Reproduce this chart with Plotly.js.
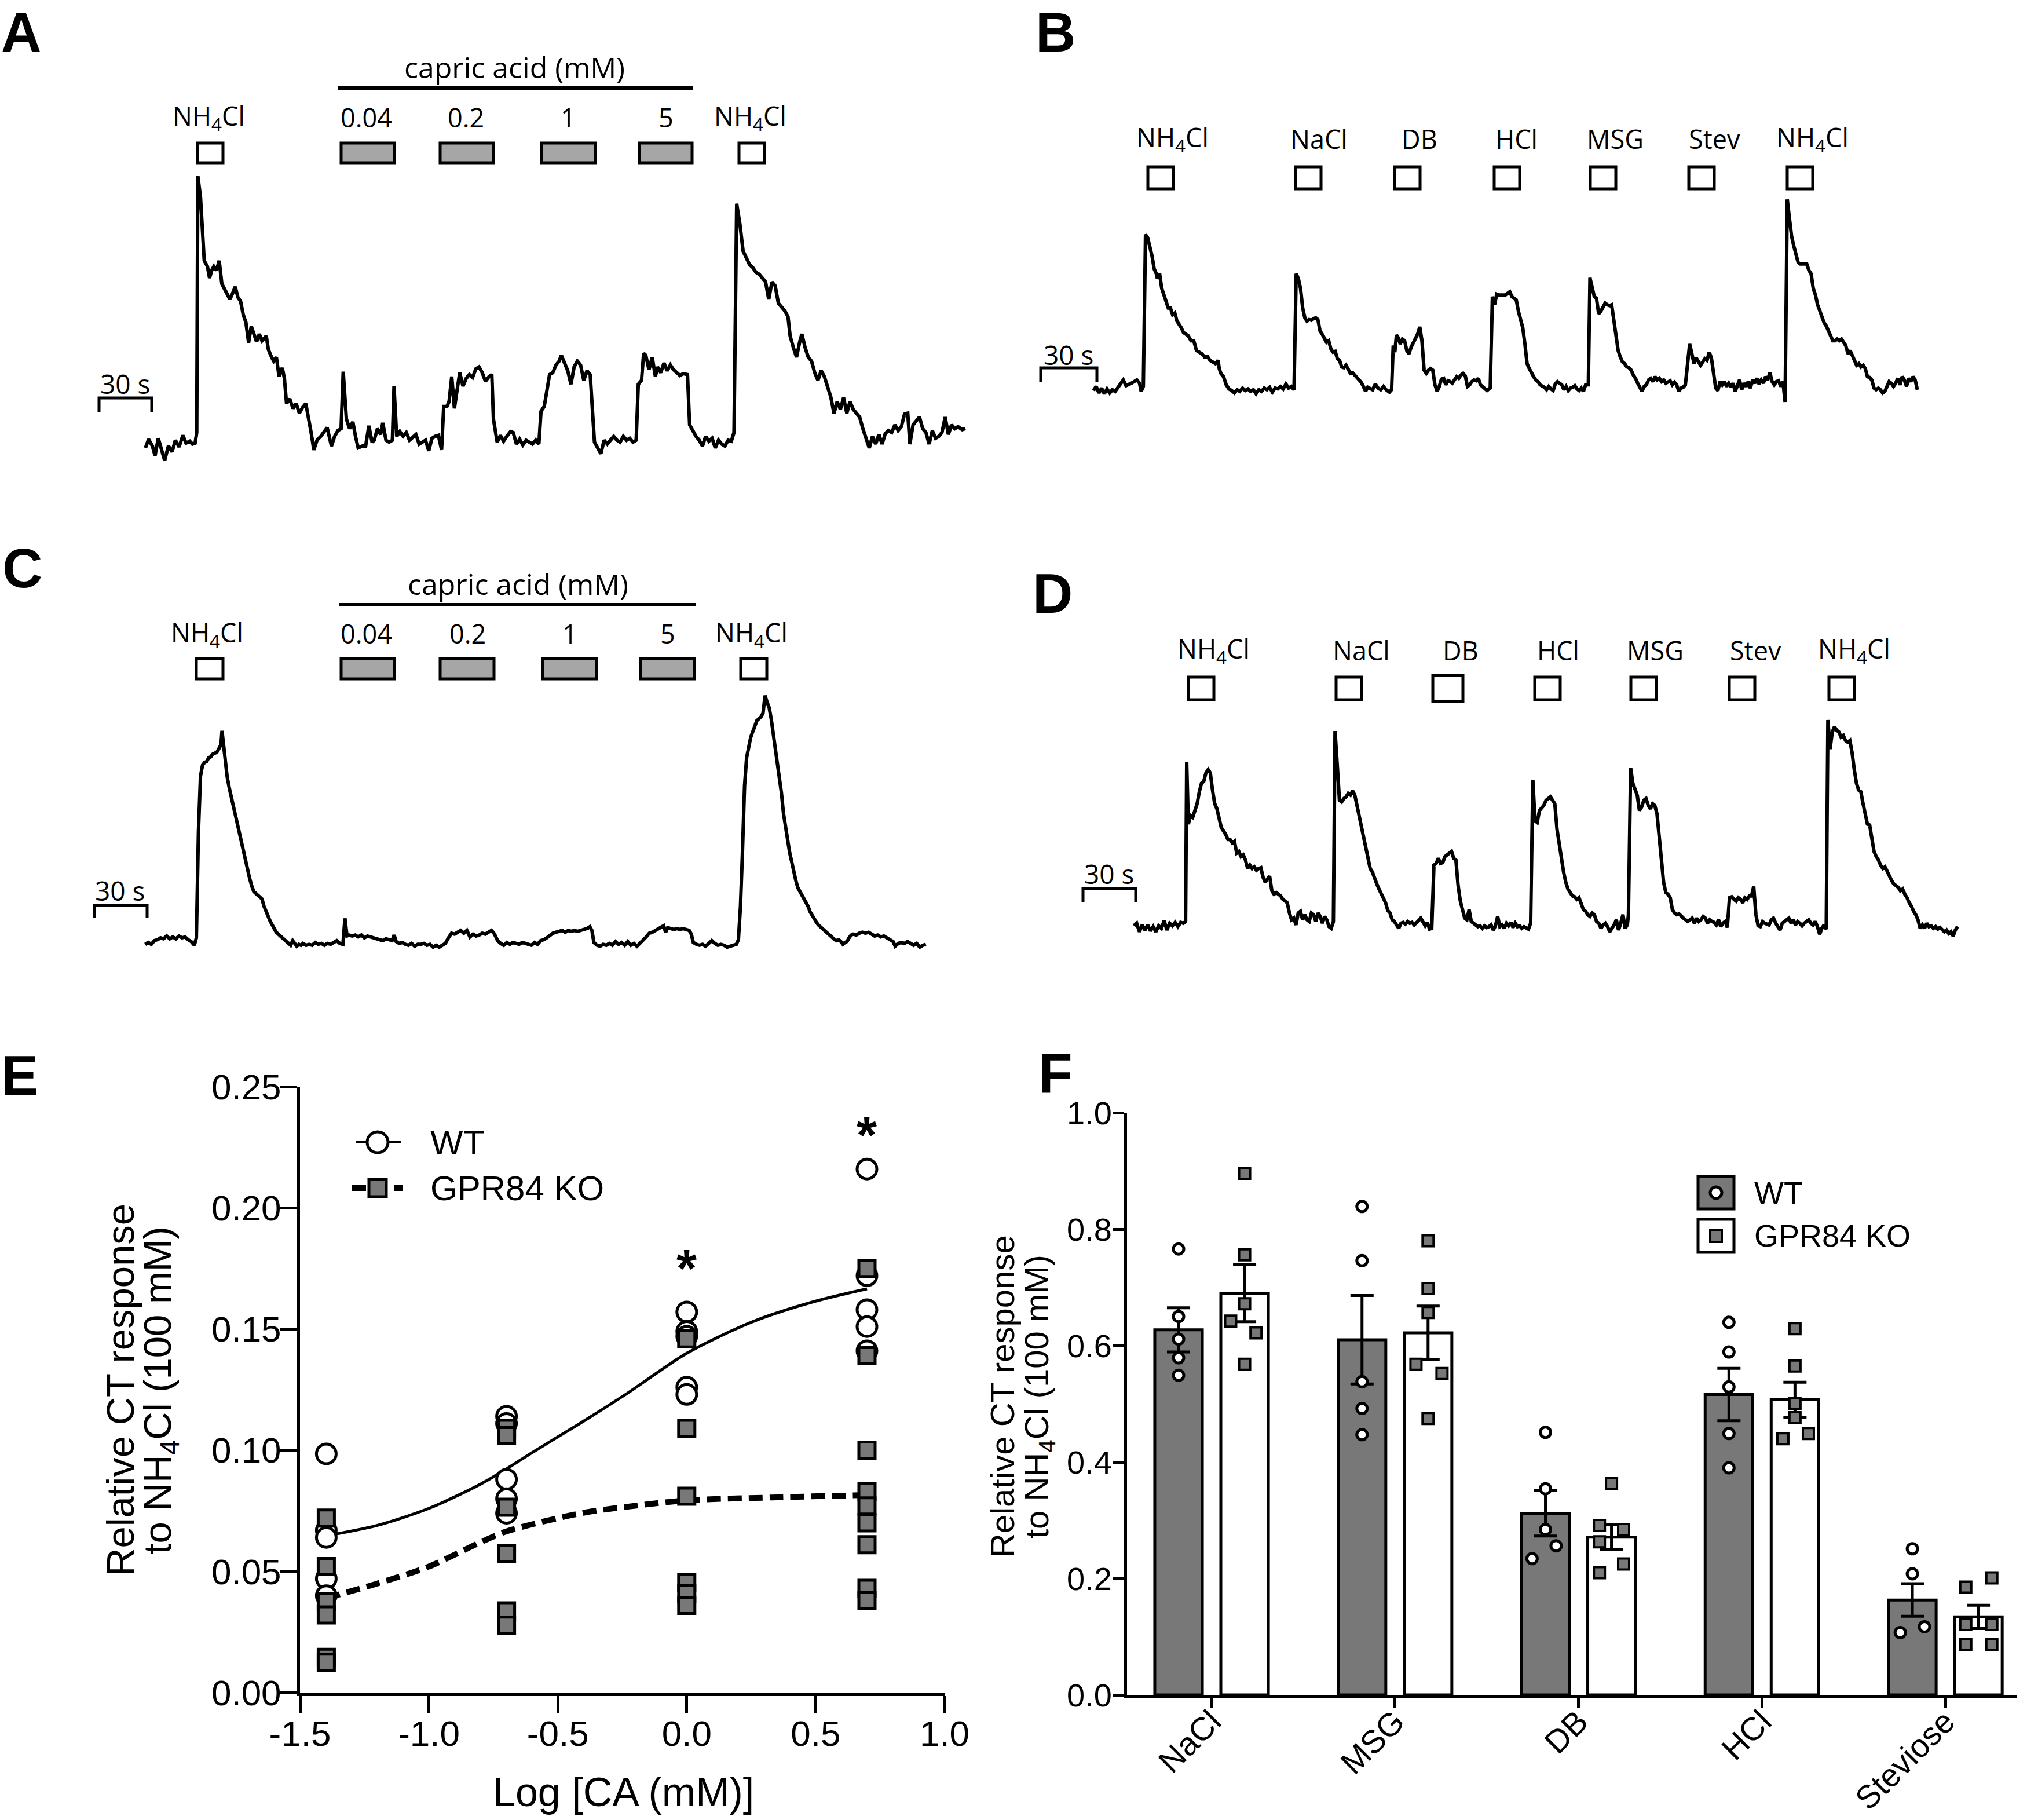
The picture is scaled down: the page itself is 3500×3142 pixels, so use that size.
<!DOCTYPE html>
<html><head><meta charset="utf-8">
<script src="https://cdn.plot.ly/plotly-3.0.1.min.js"></script>
<style>html,body{margin:0;padding:0;background:#fff}</style>
</head><body>
<div id="fig" style="width:3500px;height:3142px"></div>
<script>
// ---------------- DATA ----------------
// Nerve recordings: [time, integrated response] in digitisation units (arbitrary units)
const traceA = [[12,80],[18,125],[25,90],[30,40],[36,130],[42,70],[48,15],[55,90],[62,60],[68,120],[75,85],[82,145],[88,105],[95,115],[100,100],[105,105],[108,160],[110,1490],[115,1380],[118,1240],[122,1050],[128,1020],[132,960],[136,1000],[140,1020],[145,1000],[150,1050],[155,930],[160,900],[165,870],[170,850],[175,880],[180,915],[185,860],[190,840],[195,770],[200,730],[205,625],[210,710],[215,670],[220,630],[225,670],[230,635],[238,660],[242,590],[248,550],[252,530],[257,550],[262,450],[268,495],[272,440],[276,310],[282,335],[288,285],[294,310],[300,260],[306,290],[312,310],[318,230],[322,160],[327,70],[333,120],[340,140],[346,160],[352,185],[360,90],[366,140],[372,170],[378,180],[382,475],[388,230],[394,180],[400,215],[405,140],[410,80],[418,90],[424,90],[430,195],[436,110],[440,120],[446,180],[452,150],[456,210],[462,120],[468,110],[474,120],[477,400],[482,140],[488,165],[494,140],[500,160],[506,120],[512,135],[518,150],[524,100],[530,110],[536,120],[542,65],[548,130],[554,140],[560,145],[566,70],[570,295],[576,295],[580,320],[585,450],[590,285],[595,380],[600,470],[606,400],[612,440],[618,460],[624,445],[630,490],[636,500],[642,470],[648,425],[655,450],[660,460],[663,230],[670,110],[676,145],[682,115],[688,140],[695,165],[700,160],[706,100],[712,125],[718,95],[724,120],[730,110],[736,100],[742,120],[748,100],[752,270],[758,295],[762,360],[768,460],[774,470],[780,510],[786,530],[790,560],[796,520],[802,480],[808,410],[814,500],[820,530],[826,510],[832,430],[838,480],[844,460],[848,260],[852,110],[858,80],[864,50],[870,120],[876,100],[882,120],[888,140],[894,120],[900,110],[906,140],[912,120],[918,130],[924,110],[930,120],[934,410],[940,430],[944,570],[948,560],[954,485],[960,550],[966,450],[970,500],[976,470],[982,520],[988,480],[994,510],[1000,485],[1006,470],[1012,455],[1018,465],[1026,460],[1030,200],[1036,165],[1042,140],[1048,120],[1054,90],[1060,140],[1066,115],[1072,130],[1078,80],[1084,120],[1090,100],[1096,90],[1102,120],[1108,115],[1113,160],[1118,1345],[1124,1240],[1130,1100],[1136,1060],[1142,1030],[1148,1015],[1154,990],[1160,980],[1166,960],[1172,940],[1178,850],[1184,940],[1190,920],[1196,830],[1202,810],[1208,790],[1214,760],[1218,660],[1224,600],[1230,550],[1236,630],[1240,670],[1246,600],[1252,550],[1258,530],[1264,470],[1270,430],[1276,480],[1282,450],[1288,400],[1294,345],[1300,260],[1306,320],[1312,280],[1318,340],[1324,260],[1330,320],[1336,280],[1342,260],[1348,240],[1354,180],[1360,130],[1366,80],[1372,140],[1378,100],[1384,150],[1390,100],[1396,155],[1402,170],[1408,160],[1414,200],[1420,170],[1426,190],[1432,255],[1438,260],[1442,100],[1448,200],[1454,220],[1460,240],[1466,180],[1472,160],[1478,100],[1484,170],[1490,130],[1496,140],[1502,160],[1508,240],[1514,150],[1520,200],[1526,180],[1532,190],[1540,175],[1546,180]];

const traceB = [[30,375],[35,400],[40,360],[45,390],[50,355],[55,385],[60,360],[65,380],[70,370],[75,395],[80,420],[85,440],[90,405],[95,410],[100,420],[105,430],[110,440],[115,420],[118,370],[122,400],[126,1330],[130,1310],[134,1260],[138,1200],[142,1120],[146,1090],[148,1060],[152,1090],[156,1000],[160,950],[164,920],[168,880],[172,880],[176,840],[180,850],[184,800],[188,780],[192,760],[196,730],[200,720],[205,710],[210,680],[215,680],[220,620],[225,610],[230,600],[235,580],[240,585],[245,560],[250,550],[255,540],[260,560],[262,510],[265,480],[270,460],[275,410],[280,385],[285,375],[290,360],[295,380],[300,370],[305,390],[310,375],[315,385],[320,370],[325,380],[330,355],[335,380],[340,370],[345,390],[350,380],[355,395],[360,365],[365,390],[370,385],[375,400],[380,385],[385,415],[390,390],[395,400],[400,380],[404,1090],[408,1060],[412,1000],[416,880],[420,820],[424,800],[428,810],[432,805],[436,815],[440,820],[444,810],[448,740],[452,720],[456,690],[460,670],[464,680],[468,630],[472,610],[476,615],[480,570],[484,560],[488,520],[492,515],[496,530],[500,500],[504,480],[508,485],[512,470],[516,455],[520,440],[524,425],[528,400],[532,370],[536,395],[540,390],[545,380],[550,415],[555,390],[560,380],[565,400],[570,380],[576,365],[580,380],[583,650],[586,610],[589,715],[592,700],[596,660],[600,690],[604,680],[608,620],[612,600],[616,640],[620,670],[624,700],[628,720],[632,765],[636,680],[640,500],[644,480],[648,500],[652,510],[656,500],[660,410],[664,370],[668,400],[672,445],[676,450],[680,410],[684,435],[688,430],[692,420],[696,440],[700,460],[704,450],[708,470],[712,480],[716,465],[720,400],[724,410],[728,430],[732,440],[736,435],[740,450],[744,410],[748,400],[752,390],[756,375],[762,390],[766,950],[770,900],[774,965],[778,960],[782,960],[786,965],[790,960],[794,970],[798,980],[802,950],[806,940],[810,930],[814,860],[818,810],[822,760],[826,660],[830,540],[834,510],[838,480],[842,460],[846,440],[850,430],[854,410],[858,405],[862,395],[866,380],[870,400],[874,385],[878,375],[882,415],[886,430],[890,420],[894,410],[898,380],[902,400],[906,375],[910,390],[914,395],[918,405],[922,385],[926,375],[930,390],[934,370],[938,410],[943,410],[946,1065],[950,1010],[954,950],[958,940],[962,845],[966,860],[970,885],[974,910],[978,900],[982,895],[986,900],[990,810],[994,700],[998,620],[1002,580],[1006,550],[1010,540],[1014,520],[1018,515],[1022,500],[1026,470],[1030,450],[1034,420],[1038,390],[1042,370],[1046,400],[1050,410],[1054,440],[1058,450],[1062,430],[1066,460],[1070,440],[1074,450],[1078,430],[1082,440],[1086,420],[1090,430],[1094,435],[1098,410],[1102,425],[1106,410],[1110,370],[1114,390],[1118,395],[1122,410],[1126,520],[1130,660],[1134,600],[1138,540],[1142,575],[1146,550],[1150,530],[1154,550],[1158,570],[1162,560],[1166,610],[1170,575],[1174,460],[1178,390],[1182,375],[1186,430],[1190,410],[1194,430],[1198,400],[1202,420],[1206,395],[1210,420],[1214,370],[1218,410],[1222,440],[1226,380],[1230,420],[1234,400],[1238,430],[1242,390],[1246,440],[1250,420],[1254,450],[1258,415],[1262,440],[1266,420],[1270,460],[1274,440],[1278,485],[1282,430],[1286,410],[1290,430],[1294,435],[1298,400],[1302,430],[1306,305],[1310,1545],[1314,1430],[1318,1320],[1322,1260],[1326,1210],[1330,1160],[1334,1150],[1338,1150],[1342,1145],[1346,1150],[1350,1110],[1354,1090],[1358,1000],[1362,960],[1366,900],[1370,860],[1374,820],[1378,790],[1382,770],[1386,740],[1390,700],[1394,680],[1398,680],[1402,690],[1406,680],[1410,690],[1414,670],[1418,650],[1422,600],[1426,620],[1430,590],[1434,560],[1438,530],[1442,540],[1446,520],[1450,530],[1454,510],[1458,460],[1462,455],[1466,440],[1470,390],[1474,380],[1478,390],[1482,380],[1486,360],[1490,370],[1494,400],[1498,430],[1502,420],[1506,400],[1510,420],[1514,450],[1518,410],[1522,460],[1526,440],[1530,400],[1534,450],[1538,430],[1542,460],[1546,440],[1550,380]];

const traceC = [[12,155],[18,165],[24,155],[30,175],[36,180],[42,190],[48,185],[54,200],[60,185],[66,195],[72,185],[78,200],[84,190],[90,195],[96,180],[102,170],[108,150],[112,190],[116,760],[120,1060],[124,1120],[128,1135],[132,1140],[136,1160],[140,1165],[144,1180],[148,1185],[152,1190],[156,1210],[160,1230],[162,1305],[165,1230],[168,1130],[172,1060],[176,1000],[180,950],[184,900],[188,850],[192,800],[196,740],[200,690],[204,640],[208,600],[212,550],[216,510],[220,470],[224,440],[228,430],[232,420],[236,410],[240,400],[244,360],[248,330],[252,300],[256,280],[260,260],[264,240],[268,220],[272,210],[276,200],[280,195],[284,185],[288,175],[292,160],[296,150],[300,175],[304,160],[308,145],[312,155],[316,150],[320,160],[326,150],[332,155],[338,150],[344,165],[350,155],[356,160],[362,150],[368,160],[374,155],[380,165],[386,175],[392,160],[398,155],[402,295],[406,200],[410,205],[416,200],[422,205],[428,195],[434,205],[440,190],[446,200],[452,195],[458,190],[464,185],[470,180],[476,175],[482,185],[488,180],[494,175],[498,205],[502,170],[508,160],[514,165],[520,155],[526,150],[532,160],[538,145],[544,155],[550,155],[556,160],[562,150],[568,155],[574,140],[580,150],[586,140],[592,150],[598,160],[604,190],[610,215],[616,210],[622,220],[628,230],[634,215],[640,230],[646,195],[652,210],[658,200],[664,205],[670,215],[676,210],[682,220],[688,230],[694,210],[700,175],[706,160],[712,150],[718,165],[724,155],[730,165],[736,160],[742,155],[748,165],[754,160],[760,155],[766,150],[772,165],[778,155],[784,175],[790,180],[796,190],[802,205],[808,215],[814,220],[820,225],[826,230],[832,220],[838,230],[844,225],[850,230],[856,225],[862,230],[868,235],[874,240],[880,250],[884,230],[888,165],[894,150],[900,145],[906,155],[912,150],[918,160],[924,150],[930,170],[936,155],[942,165],[948,150],[954,170],[960,150],[966,160],[972,145],[978,160],[984,180],[990,195],[996,215],[1002,220],[1008,230],[1014,240],[1020,245],[1024,255],[1028,220],[1032,245],[1038,240],[1044,235],[1050,240],[1056,235],[1062,240],[1068,235],[1074,230],[1078,210],[1082,165],[1088,155],[1094,150],[1100,155],[1106,145],[1112,160],[1118,175],[1124,160],[1130,150],[1136,155],[1142,150],[1148,140],[1154,145],[1160,150],[1166,155],[1170,180],[1174,360],[1178,660],[1182,1010],[1186,1160],[1190,1230],[1194,1270],[1198,1300],[1202,1335],[1206,1360],[1210,1370],[1214,1380],[1218,1400],[1222,1495],[1226,1460],[1230,1430],[1234,1370],[1238,1290],[1242,1220],[1246,1140],[1250,1060],[1254,970],[1258,860],[1262,780],[1266,710],[1270,650],[1274,600],[1278,540],[1282,500],[1286,460],[1290,440],[1294,420],[1298,400],[1302,380],[1306,360],[1310,330],[1314,310],[1318,290],[1322,275],[1326,260],[1330,250],[1334,240],[1338,230],[1342,215],[1346,205],[1350,200],[1354,190],[1358,180],[1362,175],[1366,180],[1370,170],[1374,155],[1378,165],[1382,170],[1386,190],[1390,205],[1394,210],[1400,205],[1406,215],[1412,220],[1418,215],[1424,220],[1430,210],[1436,200],[1442,205],[1448,195],[1454,200],[1460,190],[1466,180],[1472,170],[1476,145],[1482,160],[1488,165],[1494,160],[1500,170],[1506,160],[1512,150],[1518,160],[1524,140],[1530,150],[1536,155]];

const traceD = [[40,345],[45,360],[50,310],[55,350],[60,320],[65,350],[70,315],[75,340],[80,310],[85,345],[90,330],[95,375],[100,320],[105,360],[110,345],[115,365],[120,340],[125,365],[130,360],[134,370],[136,1305],[139,940],[143,990],[147,980],[151,1020],[155,1060],[159,1130],[163,1180],[167,1190],[171,1240],[175,1260],[179,1240],[183,1140],[187,1060],[191,1030],[195,970],[199,920],[203,900],[207,880],[211,850],[215,850],[219,830],[223,840],[227,770],[231,780],[235,750],[239,760],[243,730],[247,680],[251,700],[255,680],[259,690],[263,670],[267,680],[271,685],[275,630],[279,600],[283,620],[287,635],[291,550],[295,530],[299,540],[303,530],[307,520],[311,500],[315,490],[319,480],[323,420],[327,380],[331,390],[335,350],[339,420],[343,430],[347,380],[351,410],[355,380],[359,370],[363,420],[367,410],[371,370],[375,420],[379,400],[383,360],[387,400],[391,380],[395,340],[399,330],[403,370],[406,1485],[410,1290],[414,1080],[418,1070],[422,1090],[426,1100],[430,1120],[434,1110],[438,1135],[442,1110],[446,1050],[450,1000],[454,940],[458,860],[462,800],[466,740],[470,680],[474,660],[478,620],[482,590],[486,560],[490,530],[494,510],[498,480],[502,435],[506,420],[510,380],[514,370],[518,350],[522,330],[526,360],[530,365],[534,355],[538,370],[542,360],[546,365],[550,350],[554,360],[558,375],[562,390],[566,370],[570,345],[574,365],[578,325],[582,330],[586,700],[590,710],[594,740],[598,710],[602,715],[606,750],[610,760],[614,770],[618,780],[622,740],[626,730],[630,580],[634,490],[638,440],[642,390],[646,380],[650,440],[654,370],[658,360],[662,350],[666,340],[670,345],[674,330],[678,345],[682,335],[686,340],[690,350],[694,320],[698,345],[702,400],[706,340],[710,350],[714,330],[718,360],[722,345],[726,365],[730,335],[734,360],[738,340],[742,345],[746,330],[750,340],[754,330],[758,325],[762,360],[766,1200],[770,960],[774,950],[778,1020],[782,1035],[786,1050],[790,1080],[794,1090],[798,1100],[802,1080],[806,1060],[810,910],[814,820],[818,740],[822,660],[826,600],[830,560],[834,540],[838,520],[842,515],[846,500],[850,510],[854,470],[858,440],[862,430],[866,410],[870,400],[874,420],[878,410],[882,370],[886,360],[890,330],[894,350],[898,360],[902,340],[906,310],[910,330],[914,350],[918,380],[922,320],[926,360],[930,410],[934,330],[938,350],[940,410],[944,1270],[948,1180],[952,1140],[956,1110],[960,1020],[964,1040],[968,1080],[972,1090],[976,1050],[980,1030],[984,1060],[988,1050],[992,1000],[996,860],[1000,700],[1004,600],[1008,540],[1012,530],[1016,510],[1020,440],[1024,420],[1028,410],[1032,415],[1036,400],[1040,390],[1044,380],[1048,370],[1052,380],[1056,390],[1060,360],[1064,390],[1068,370],[1072,380],[1076,400],[1080,390],[1084,360],[1088,380],[1092,370],[1096,365],[1100,350],[1104,380],[1108,340],[1112,360],[1116,370],[1120,335],[1124,510],[1128,515],[1132,500],[1136,490],[1140,510],[1144,500],[1148,480],[1152,510],[1156,500],[1160,520],[1164,520],[1168,575],[1172,410],[1176,345],[1180,340],[1184,370],[1188,360],[1192,355],[1196,350],[1200,380],[1204,390],[1208,360],[1212,340],[1216,320],[1220,360],[1224,370],[1228,380],[1232,390],[1236,360],[1240,380],[1244,350],[1248,370],[1252,360],[1256,345],[1260,360],[1264,370],[1268,380],[1272,360],[1276,350],[1280,370],[1284,340],[1288,295],[1292,330],[1296,350],[1300,325],[1303,1550],[1307,1380],[1311,1480],[1315,1510],[1319,1490],[1323,1480],[1327,1450],[1331,1460],[1335,1430],[1339,1420],[1343,1430],[1347,1360],[1351,1260],[1355,1180],[1359,1140],[1363,1130],[1367,1060],[1371,1000],[1375,940],[1379,935],[1383,860],[1387,780],[1391,750],[1395,730],[1399,700],[1403,680],[1407,690],[1411,660],[1415,640],[1419,610],[1423,590],[1427,580],[1431,570],[1435,550],[1439,560],[1443,530],[1447,510],[1451,480],[1455,460],[1459,430],[1463,410],[1467,380],[1471,330],[1475,350],[1479,330],[1483,360],[1487,340],[1491,345],[1495,330],[1499,340],[1503,325],[1507,335],[1511,320],[1515,310],[1519,320],[1523,300],[1527,310],[1531,285],[1535,320],[1539,340]];

// Stimulus labels
const capricConc = ['0.04', '0.2', '1', '5'];
const tastantLabels = ['NH<sub>4</sub>Cl', 'NaCl', 'DB', 'HCl', 'MSG', 'Stev', 'NH<sub>4</sub>Cl'];

// Panel E: log [capric acid, mM] and individual responses
const logCA = [-1.398, -0.699, 0, 0.699];
const wtResp = [
  [0.0985, 0.067, 0.064, 0.047, 0.040],
  [0.114, 0.111, 0.088, 0.080, 0.074],
  [0.157, 0.149, 0.147, 0.126, 0.123],
  [0.216, 0.172, 0.158, 0.151, 0.141]
];
const koResp = [
  [0.072, 0.052, 0.0375, 0.032, 0.0145, 0.0125],
  [0.109, 0.106, 0.0765, 0.0574, 0.0337, 0.0278],
  [0.146, 0.109, 0.081, 0.0455, 0.041, 0.036],
  [0.175, 0.139, 0.100, 0.083, 0.077, 0.070, 0.061, 0.043, 0.038]
];
const wtFitX = [-1.398, -1.2, -1.0, -0.8, -0.699, -0.6, -0.415, -0.23, 0, 0.255, 0.5, 0.699];
const wtFitY = [0.0647, 0.069, 0.076, 0.086, 0.0923, 0.099, 0.111, 0.1235, 0.140, 0.153, 0.1615, 0.1666];
const koFitX = [-1.398, -1.2, -1.0, -0.8, -0.699, -0.415, -0.23, 0, 0.33, 0.699];
const koFitY = [0.039, 0.045, 0.052, 0.062, 0.0665, 0.0739, 0.0767, 0.0793, 0.0805, 0.0815];
const sigX = [0, 0.699];
const sigY = [0.177, 0.232];
const eXTicks = [-1.5, -1.0, -0.5, 0, 0.5, 1.0];
const eXTickText = ['-1.5', '-1.0', '-0.5', '0.0', '0.5', '1.0'];
const eYTicks = [0, 0.05, 0.10, 0.15, 0.20, 0.25];
const eYTickText = ['0.00', '0.05', '0.10', '0.15', '0.20', '0.25'];

// Panel F: tastant responses
const tastants = ['NaCl', 'MSG', 'DB', 'HCl', 'Steviose'];
const wtMean = [0.627, 0.610, 0.312, 0.516, 0.163];
const wtSem  = [0.038, 0.076, 0.039, 0.045, 0.028];
const koMean = [0.690, 0.622, 0.271, 0.507, 0.134];
const koSem  = [0.049, 0.046, 0.021, 0.030, 0.020];
const wtDots = [
  [0.766, 0.650, 0.611, 0.579, 0.549],
  [0.839, 0.746, 0.538, 0.492, 0.447],
  [0.451, 0.354, 0.284, 0.256, 0.234],
  [0.640, 0.589, 0.529, 0.449, 0.390],
  [0.251, 0.208, 0.117, 0.107]
];
const wtJitter = [
  [0, 0, 0, 0, 0],
  [0, 0, 0, 0, 0],
  [0, 0, 0, 0.058, -0.073],
  [0, 0, 0, 0, 0],
  [0, 0, 0.066, -0.066]
];
const koDots = [
  [0.896, 0.756, 0.672, 0.642, 0.622, 0.568],
  [0.780, 0.698, 0.657, 0.568, 0.552, 0.475],
  [0.363, 0.291, 0.284, 0.263, 0.225, 0.210],
  [0.629, 0.565, 0.500, 0.476, 0.449, 0.440],
  [0.201, 0.185, 0.121, 0.121, 0.087, 0.087]
];
const koJitter = [
  [0, 0, 0, -0.076, 0.062, 0],
  [0, 0, 0, -0.066, 0.076, 0],
  [0, -0.066, 0.066, -0.066, 0.066, -0.066],
  [0, 0, 0, 0, 0.073, -0.066],
  [0.073, -0.069, -0.069, 0.073, -0.069, 0.073]
];
const fYTicks = [0, 0.2, 0.4, 0.6, 0.8, 1.0];
const fYTickText = ['0.0', '0.2', '0.4', '0.6', '0.8', '1.0'];

// ---------------- LAYOUT HELPERS ----------------
const W = 3500, H = 3142;
const fx = x => x / W;
const fy = y => 1 - y / H;
const ARIAL = 'Liberation Sans, Arial, Helvetica, sans-serif';
const TFONT = 'Open Sans, DejaVu Sans, sans-serif';
const GREY_BOX = '#a6a6a6';
const GREY = '#787878';
const BARGAP = 0.28;
const GROUP_OFF = (1 - BARGAP) / 4;

const shapes = [];
const annotations = [];
function rectPx(x0, y0, x1, y1, fill, lw) {
  shapes.push({type: 'rect', xref: 'paper', yref: 'paper', x0: fx(x0), x1: fx(x1), y0: fy(y1), y1: fy(y0),
    fillcolor: fill, line: {color: '#000', width: lw || 5}, layer: 'above'});
}
function circPx(cx, cy, r, fill, lw) {
  shapes.push({type: 'circle', xref: 'paper', yref: 'paper', x0: fx(cx - r), x1: fx(cx + r), y0: fy(cy + r), y1: fy(cy - r),
    fillcolor: fill, line: {color: '#000', width: lw || 5}, layer: 'above'});
}
function linePx(x0, y0, x1, y1, lw, dash) {
  shapes.push({type: 'line', xref: 'paper', yref: 'paper', x0: fx(x0), x1: fx(x1), y0: fy(y0), y1: fy(y1),
    line: {color: '#000', width: lw || 5, dash: dash || 'solid'}, layer: 'above'});
}
function textPx(text, x, y, size, family, opts) {
  annotations.push(Object.assign({text: text, xref: 'paper', yref: 'paper', x: fx(x), y: fy(y),
    xanchor: 'center', yanchor: 'middle', showarrow: false,
    font: {size: size, family: family, color: '#000'}}, opts || {}));
}
function scaleBar(x0, x1, y, yTick, tx, ty) {
  shapes.push({type: 'path', xref: 'paper', yref: 'paper',
    path: 'M' + fx(x0) + ',' + fy(yTick) + ' L' + fx(x0) + ',' + fy(y) + ' L' + fx(x1) + ',' + fy(y) + ' L' + fx(x1) + ',' + fy(yTick),
    line: {color: '#000', width: 5}, layer: 'above'});
  textPx('30 s', tx, ty, 46, TFONT);
}

// ---------------- TRACES ----------------
const data = [];
function recording(tr, n) {
  data.push({x: tr.map(p => p[0]), y: tr.map(p => p[1]), xaxis: 'x' + n, yaxis: 'y' + n,
    type: 'scatter', mode: 'lines', line: {color: '#000', width: 6}, hoverinfo: 'skip', showlegend: false});
}
recording(traceA, 1);
recording(traceB, 2);
recording(traceC, 3);
recording(traceD, 4);

// Panel E
data.push({x: wtFitX, y: wtFitY, xaxis: 'x5', yaxis: 'y5', type: 'scatter', mode: 'lines',
  line: {color: '#000', width: 5, shape: 'spline', smoothing: 0.8}, showlegend: false});
data.push({x: koFitX, y: koFitY, xaxis: 'x5', yaxis: 'y5', type: 'scatter', mode: 'lines',
  line: {color: '#000', width: 10, dash: '24px,12px', shape: 'spline', smoothing: 0.8}, showlegend: false});
const wtX = [], wtY = [], koX = [], koY = [];
logCA.forEach((c, i) => {
  wtResp[i].forEach(v => { wtX.push(c); wtY.push(v); });
  koResp[i].forEach(v => { koX.push(c); koY.push(v); });
});
data.push({x: wtX, y: wtY, xaxis: 'x5', yaxis: 'y5', type: 'scatter', mode: 'markers', cliponaxis: false,
  marker: {symbol: 'circle', size: 34, color: '#fff', line: {color: '#000', width: 5}}, showlegend: false});
data.push({x: koX, y: koY, xaxis: 'x5', yaxis: 'y5', type: 'scatter', mode: 'markers', cliponaxis: false,
  marker: {symbol: 'square', size: 28, color: GREY, line: {color: '#000', width: 5}}, showlegend: false});

// Panel F
const catIdx = tastants.map((_, i) => i);
data.push({x: catIdx, y: wtMean, xaxis: 'x6', yaxis: 'y6', type: 'bar', name: 'WT',
  marker: {color: GREY, line: {color: '#000', width: 5}},
  error_y: {type: 'data', array: wtSem, visible: true, color: '#000', thickness: 5, width: 20}, showlegend: false});
data.push({x: catIdx, y: koMean, xaxis: 'x6', yaxis: 'y6', type: 'bar', name: 'GPR84 KO',
  marker: {color: '#fff', line: {color: '#000', width: 5}},
  error_y: {type: 'data', array: koSem, visible: true, color: '#000', thickness: 5, width: 20}, showlegend: false});
const fwX = [], fwY = [], fkX = [], fkY = [];
wtDots.forEach((arr, i) => arr.forEach((v, j) => { fwX.push(i - GROUP_OFF + wtJitter[i][j]); fwY.push(v); }));
koDots.forEach((arr, i) => arr.forEach((v, j) => { fkX.push(i + GROUP_OFF + koJitter[i][j]); fkY.push(v); }));
data.push({x: fwX, y: fwY, xaxis: 'x6', yaxis: 'y6', type: 'scatter', mode: 'markers', cliponaxis: false,
  marker: {symbol: 'circle', size: 18, color: '#fff', line: {color: '#000', width: 5}}, showlegend: false});
data.push({x: fkX, y: fkY, xaxis: 'x6', yaxis: 'y6', type: 'scatter', mode: 'markers', cliponaxis: false,
  marker: {symbol: 'square', size: 19, color: GREY, line: {color: '#000', width: 4}}, showlegend: false});

// ---------------- LAYOUT ----------------
const layout = {
  width: W, height: H, autosize: false,
  margin: {l: 0, r: 0, t: 0, b: 0, pad: 0},
  paper_bgcolor: '#fff', plot_bgcolor: 'rgba(0,0,0,0)',
  showlegend: false, barmode: 'group', bargap: BARGAP, bargroupgap: 0.28,
  font: {family: ARIAL, color: '#000'},
  shapes: shapes, annotations: annotations
};
function recAxes(n, x0, x1, y0, y1) {
  const xk = n === 1 ? 'xaxis' : 'xaxis' + n;
  const yk = n === 1 ? 'yaxis' : 'yaxis' + n;
  layout[xk] = {domain: [fx(x0), fx(x1)], range: [0, 1560], visible: false, fixedrange: true, anchor: 'y' + (n === 1 ? '' : n)};
  layout[yk] = {domain: [fy(y1), fy(y0)], range: [0, 1560], visible: false, fixedrange: true, anchor: 'x' + (n === 1 ? '' : n)};
}
recAxes(1, 240, 1680, 280, 800);
recAxes(2, 1860, 3320, 340, 780);
recAxes(3, 240, 1620, 1180, 1680);
recAxes(4, 1920, 3400, 1240, 1700);

const axStyle = {showgrid: false, zeroline: false, showline: true, linecolor: '#000', ticks: 'outside',
  tickcolor: '#000', fixedrange: true};
layout.xaxis5 = Object.assign({}, axStyle, {domain: [fx(518), fx(1631)], range: [-1.5, 1.0], anchor: 'y5',
  linewidth: 6, tickwidth: 5, ticklen: 30, tickmode: 'array', tickvals: eXTicks, ticktext: eXTickText,
  tickfont: {size: 62, family: ARIAL}, ticklabelstandoff: -18});
layout.yaxis5 = Object.assign({}, axStyle, {domain: [fy(2922), fy(1876)], range: [0, 0.25], anchor: 'x5',
  linewidth: 6, tickwidth: 5, ticklen: 28, tickmode: 'array', tickvals: eYTicks, ticktext: eYTickText,
  tickfont: {size: 62, family: ARIAL}, ticklabelstandoff: -14});
layout.xaxis6 = Object.assign({}, axStyle, {domain: [fx(1946), fx(3482)], range: [-0.461, 4.388], anchor: 'y6',
  linewidth: 5, tickwidth: 5, ticklen: 18, tickmode: 'array', tickvals: catIdx, ticktext: tastants,
  tickangle: -45, tickfont: {size: 56, family: ARIAL}, ticklabelstandoff: -32});
layout.yaxis6 = Object.assign({}, axStyle, {domain: [fy(2926), fy(1921)], range: [0, 1.0], anchor: 'x6',
  linewidth: 5, tickwidth: 5, ticklen: 20, tickmode: 'array', tickvals: fYTicks, ticktext: fYTickText,
  tickfont: {size: 56, family: ARIAL}, ticklabelstandoff: -10});

// ---------------- DECORATIONS ----------------
// panel letters
[['A', 36, 55], ['B', 1822, 55], ['C', 38, 980], ['D', 1817, 1025], ['E', 34, 1856], ['F', 1822, 1852]]
  .forEach(l => textPx('<b>' + l[0] + '</b>', l[1], l[2], 96, ARIAL));

// Panel A and C headers
function capricHeader(dy, nhX, concX, nh2X) {
  textPx('capric acid (mM)', 888 + (dy ? 6 : 0), 116 + dy, 50, TFONT);
  linePx(583 + (dy ? 3 : 0), 152 + dy, 1196 + (dy ? 5 : 0), 152 + dy, 6);
  textPx(tastantLabels[0], nhX, 202 + dy, 45, TFONT);
  capricConc.forEach((c, i) => textPx(c, concX[i], 202 + dy, 45, TFONT));
  textPx(tastantLabels[6], nh2X, 202 + dy, 45, TFONT);
}
capricHeader(0, 360, [632, 804, 981, 1150], 1295);
rectPx(341, 247, 385, 281, '#fff');
[[589, 681], [760, 852], [935, 1028], [1104, 1195]].forEach(b => rectPx(b[0], 247, b[1], 281, GREY_BOX));
rectPx(1276, 247, 1320, 281, '#fff');
scaleBar(171, 262, 687, 711, 216, 662);

capricHeader(892, 357, [632, 807, 984, 1153], 1297);
rectPx(339, 1137, 385, 1172, '#fff');
[[589, 681], [760, 853], [937, 1030], [1106, 1199]].forEach(b => rectPx(b[0], 1137, b[1], 1172, GREY_BOX));
rectPx(1279, 1137, 1324, 1172, '#fff');
scaleBar(163, 254, 1563, 1584, 207, 1537);

// Panel B
[2024, 2277, 2451, 2618, 2789, 2960, 3129].forEach((x, i) => textPx(tastantLabels[i], x, 239, 45, TFONT));
[2004, 2259, 2430, 2602, 2768, 2938, 3108].forEach(c => rectPx(c - 22, 288, c + 22, 326, '#fff'));
scaleBar(1797, 1894, 635, 660, 1845, 612);

// Panel D
[2095, 2350, 2522, 2690, 2858, 3031, 3201].forEach((x, i) => textPx(tastantLabels[i], x, 1122, 45, TFONT));
[2074, 2329, 2500, 2672, 2838, 3008, 3180].forEach((c, i) => {
  if (i === 2) rectPx(c - 26, 1166, c + 26, 1211, '#fff');
  else rectPx(c - 22, 1169, c + 22, 1208, '#fff');
});
scaleBar(1870, 1961, 1534, 1558, 1915, 1508);

// Panel E titles, legend, significance
textPx('Relative CT response', 207, 2400, 67, ARIAL, {textangle: -90});
textPx('to NH<sub>4</sub>Cl (100 mM)', 276, 2400, 67, ARIAL, {textangle: -90});
textPx('Log [CA (mM)]', 1076, 3094, 70, ARIAL);
linePx(614, 1972, 692, 1972, 4);
circPx(652, 1972, 18, '#fff', 5);
textPx('WT', 741, 1972, 60, ARIAL, {xanchor: 'left'});
linePx(608, 2051, 696, 2051, 10, '24px,12px');
rectPx(637, 2036, 667, 2066, GREY, 5);
textPx('GPR84 KO', 741, 2051, 60, ARIAL, {xanchor: 'left'});
sigX.forEach((x, i) => annotations.push({text: '<b>*</b>', xref: 'x5', yref: 'y5', x: x, y: sigY[i],
  yshift: -9, showarrow: false, xanchor: 'center', yanchor: 'middle', font: {size: 90, family: ARIAL, color: '#000'}}));

// Panel F titles and legend
textPx('Relative CT response', 1730, 2411, 58, ARIAL, {textangle: -90});
textPx('to NH<sub>4</sub>Cl (100 mM)', 1794, 2411, 58, ARIAL, {textangle: -90});
rectPx(2932, 2031, 2994, 2087, GREY, 5);
circPx(2963, 2059, 10, '#fff', 5);
textPx('WT', 3027, 2059, 54, ARIAL, {xanchor: 'left'});
rectPx(2932, 2105, 2994, 2162, '#fff', 5);
rectPx(2953, 2123, 2973, 2144, GREY, 4);
textPx('GPR84 KO', 3027, 2133, 54, ARIAL, {xanchor: 'left'});

Plotly.newPlot('fig', data, layout, {staticPlot: true, displayModeBar: false});
</script>
</body></html>
